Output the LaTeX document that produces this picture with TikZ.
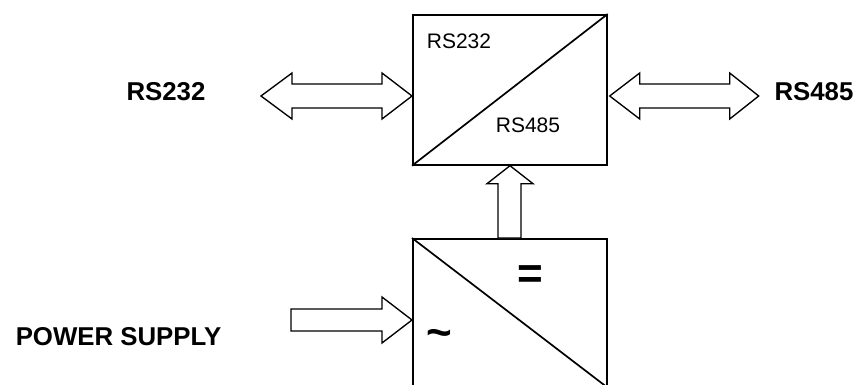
\documentclass[tikz,border=0pt]{standalone}
\usepackage{fontspec}
\setmainfont{Liberation Sans}
\usetikzlibrary{calc}
\begin{document}
\begin{tikzpicture}[x=1pt,y=-1pt,
  boxline/.style={line width=1.7pt},
  blockbox/.style={draw, line width=1.7pt, minimum width=194pt, inner sep=0pt, anchor=north west},
  arrowline/.style={draw, line width=1.35pt, line join=miter, fill=white},
  biglabel/.style={font=\fontsize{25.8}{30}\selectfont\bfseries, inner sep=0pt},
  smalllabel/.style={font=\fontsize{21}{25}\selectfont, inner sep=0pt},
  symlabel/.style={font=\fontsize{44}{50}\selectfont\bfseries, inner sep=0pt}]
\useasboundingbox (0,0) rectangle (859,385);
\clip (0,0) rectangle (859,385);
% converter box
\node[blockbox, minimum height=150pt] (conv) at (412,14) {};
\draw[boxline] (conv.south west) -- (conv.north east);
\node[smalllabel] (in232) at (459,41) {RS232};
\node[smalllabel] (in485) at (528,125) {RS485};
% power supply box (runs past the lower edge)
\node[blockbox, minimum height=148pt] (psu) at (412,238) {};
\draw[boxline] (psu.north west) -- (psu.south east);
\node[symlabel] (eq) at (530,277) {=};
\node[symlabel] (ac) at (439,338) {\char"007E};
% anchor points for the block arrows
\coordinate (cl) at ($(conv.north west)+(0,82)$);
\coordinate (cr) at ($(conv.north east)+(2,82)$);
\coordinate (cb) at ($(conv.south west)+(98,0)$);
\coordinate (pt) at ($(psu.north west)+(98,0)$);
\coordinate (pl) at ($(psu.north west)+(0,82)$);
% RS232 double arrow
\draw[arrowline] (cl) -- ++(-30,-23) -- ++(0,11) -- ++(-90,0) -- ++(0,-11) -- ++(-31,23)
  -- ++(31,23) -- ++(0,-11) -- ++(90,0) -- ++(0,11) -- cycle;
% RS485 double arrow
\draw[arrowline] (cr) -- ++(30,-23) -- ++(0,11) -- ++(90,0) -- ++(0,-11) -- ++(29,23)
  -- ++(-29,23) -- ++(0,-11) -- ++(-90,0) -- ++(0,11) -- cycle;
% up arrow from supply to converter
\draw[arrowline] (cb) -- ++(23,18) -- ++(-12,0) -- (pt -| {$(cb)+(11,0)$}) -- (pt -| {$(cb)+(-12,0)$})
  -- ($(cb)+(-12,18)$) -- ++(-11,0) -- cycle;
% power input arrow
\draw[arrowline] (pl) -- ++(-30,-23) -- ++(0,12) -- ++(-91,0) -- ++(0,22) -- ++(91,0) -- ++(0,12) -- cycle;
% outer labels
\node[biglabel] (l232) at (166,92) {RS232};
\node[biglabel] (l485) at (814,92) {RS485};
\node[biglabel] (lpow) at (118.5,337) {POWER SUPPLY};
\end{tikzpicture}
\end{document}
